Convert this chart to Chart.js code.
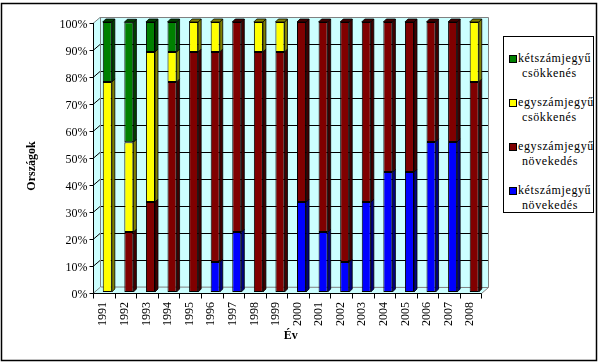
<!DOCTYPE html>
<html>
<head>
<meta charset="utf-8">
<script src="https://cdn.jsdelivr.net/npm/chart.js@4/dist/chart.umd.min.js"></script>
<style>
  body { margin: 0; background: #fff; }
  #wrap { position: relative; width: 600px; height: 364px; }
  #legend {
    position: absolute; left: 503px; top: 36px; width: 89px; height: 175px;
    border: 1px solid #000; background: #fff; overflow: hidden;
    font-family: "Liberation Serif", "Times New Roman", serif; font-size: 12px; color: #000;
  }
  .item { position: absolute; left: 5px; letter-spacing: 0.6px; line-height: 15px; white-space: nowrap; }
  .box { position: absolute; left: 0; top: 4px; width: 6px; height: 6px; border: 1px solid #000; }
  .txt { margin-left: 9px; }
  .l2 { padding-left: 4px; }
</style>
</head>
<body>
<div id="wrap">
  <canvas id="myChart" width="600" height="364"></canvas>
  <div id="legend"></div>
</div>
<script>
// years on the x axis
const years = ["1991", "1992", "1993", "1994", "1995", "1996", "1997", "1998", "1999",
  "2000", "2001", "2002", "2003", "2004", "2005", "2006", "2007", "2008"];

// share of countries (%) in each group
const ketszamjegyuNovekedes = [0, 0, 0, 0, 0, 11.1, 22.2, 0, 0, 33.3, 22.2, 11.1, 33.3, 44.4, 44.4, 55.6, 55.6, 0];
const egyszamjegyuNovekedes = [0, 22.2, 33.3, 77.8, 88.9, 77.8, 77.8, 88.9, 88.9, 66.7, 77.8, 88.9, 66.7, 55.6, 55.6, 44.4, 44.4, 77.8];
const egyszamjegyuCsokkenes = [77.8, 33.3, 55.6, 11.1, 11.1, 11.1, 0, 11.1, 11.1, 0, 0, 0, 0, 0, 0, 0, 0, 22.2];
const ketszamjegyuCsokkenes = [22.2, 44.4, 11.1, 11.1, 0, 0, 0, 0, 0, 0, 0, 0, 0, 0, 0, 0, 0, 0];

const yTicks = [0, 10, 20, 30, 40, 50, 60, 70, 80, 90, 100];

const serif = "'Liberation Serif', 'Times New Roman', serif";

// side colours for the fake 3d look
const sideColors = ["#000080", "#400000", "#808000", "#004000"];

// back wall, floor and axes drawn around the bars
const boxPlugin = {
  id: "box3d",
  beforeDatasetsDraw(chart) {
    const { ctx, chartArea: ca, scales } = chart;
    const y = scales.y;
    const x = scales.x;
    const front = (v) => y.getPixelForValue(v) + 1;
    const back = (v) => y.getPixelForValue(v) - 5;
    const fx0 = ca.left - 3.5, fx1 = ca.right - 3.5;
    const bx0 = ca.left + 3.5, bx1 = ca.right + 3.5;

    ctx.save();
    ctx.fillStyle = "#ccffff";
    ctx.beginPath();
    ctx.moveTo(fx0, front(0));
    ctx.lineTo(fx0, front(100));
    ctx.lineTo(bx0, back(100));
    ctx.lineTo(bx1, back(100));
    ctx.lineTo(bx1, back(0));
    ctx.lineTo(fx1, front(0));
    ctx.closePath();
    ctx.fill();

    // grid lines on wall
    ctx.lineWidth = 1;
    ctx.strokeStyle = "#000";
    yTicks.forEach((v) => {
      if (v === 0 || v === 100) return;
      const yb = Math.round(back(v)) + 0.5;
      ctx.beginPath();
      ctx.moveTo(fx0, Math.round(front(v)) + 0.5);
      ctx.lineTo(bx0, yb);
      ctx.lineTo(bx1, yb);
      ctx.stroke();
    });

    // grey edges
    ctx.strokeStyle = "#808080";
    ctx.beginPath();
    ctx.moveTo(fx0, Math.round(front(100)) + 0.5);
    ctx.lineTo(bx0, Math.round(back(100)) + 0.5);
    ctx.lineTo(bx1, Math.round(back(100)) + 0.5);
    ctx.lineTo(bx1, Math.round(back(0)) + 0.5);
    ctx.lineTo(fx1, Math.round(front(0)) + 0.5);
    ctx.moveTo(Math.round(bx0) + 0.5, back(100));
    ctx.lineTo(Math.round(bx0) + 0.5, back(0));
    ctx.lineTo(bx1, Math.round(back(0)) + 0.5);
    ctx.moveTo(fx0, Math.round(front(0)) + 0.5);
    ctx.lineTo(bx0, Math.round(back(0)) + 0.5);
    ctx.stroke();

    // axes and ticks
    ctx.strokeStyle = "#000";
    const ax = Math.round(fx0) + 0.5;
    const ay = Math.round(front(0)) + 0.5;
    ctx.beginPath();
    ctx.moveTo(ax, front(100));
    ctx.lineTo(ax, ay);
    ctx.lineTo(fx1, ay);
    yTicks.forEach((v) => {
      const ty = Math.round(front(v)) + 0.5;
      ctx.moveTo(ax - 4, ty);
      ctx.lineTo(ax, ty);
    });
    const step = x.getPixelForValue(1) - x.getPixelForValue(0);
    for (let i = 0; i <= years.length; i++) {
      const tx = Math.round(x.getPixelForValue(i) - step / 2 - 3.5) + 0.5;
      ctx.moveTo(tx, ay);
      ctx.lineTo(tx, ay + 5);
    }
    ctx.stroke();
    ctx.restore();
  },
  afterDatasetsDraw(chart) {
    const { ctx } = chart;
    const d = 3;
    const tops = {};
    chart.data.datasets.forEach((ds, i) => {
      ds.data.forEach((v, j) => { if (v > 0) tops[j] = i; });
    });
    ctx.save();
    ctx.lineWidth = 0.8;
    ctx.strokeStyle = "#000";
    chart.data.datasets.forEach((ds, i) => {
      const meta = chart.getDatasetMeta(i);
      meta.data.forEach((el, j) => {
        if (!(ds.data[j] > 0)) return;
        const { x, y, base, width } = el.getProps(["x", "y", "base", "width"], true);
        const l = x - width / 2, r = x + width / 2;
        ctx.fillStyle = sideColors[i];
        ctx.beginPath();
        ctx.moveTo(r, y);
        ctx.lineTo(r + d, y - d);
        ctx.lineTo(r + d, base - d);
        ctx.lineTo(r, base);
        ctx.closePath();
        ctx.fill();
        ctx.stroke();
        if (tops[j] === i) {
          ctx.beginPath();
          ctx.moveTo(l, y);
          ctx.lineTo(l + d, y - d);
          ctx.lineTo(r + d, y - d);
          ctx.lineTo(r, y);
          ctx.closePath();
          ctx.fill();
          ctx.stroke();
        }
      });
    });
    ctx.restore();
  },
  afterDraw(chart) {
    const { ctx } = chart;
    ctx.save();
    ctx.strokeStyle = "#000";
    ctx.lineWidth = 1.5;
    ctx.strokeRect(1.5, 3.5, 595, 357);
    // y axis title
    ctx.translate(32, 166);
    ctx.rotate(-Math.PI / 2);
    ctx.font = "bold 12px " + serif;
    ctx.fillStyle = "#000";
    ctx.textAlign = "center";
    ctx.textBaseline = "middle";
    ctx.fillText("Országok", 0, 0);
    ctx.restore();
  },
};

const data = {
  labels: years,
  datasets: [
    { label: "kétszámjegyű növekedés", data: ketszamjegyuNovekedes, backgroundColor: "#0000ff" },
    { label: "egyszámjegyű növekedés", data: egyszamjegyuNovekedes, backgroundColor: "#800000" },
    { label: "egyszámjegyű csökkenés", data: egyszamjegyuCsokkenes, backgroundColor: "#ffff00" },
    { label: "kétszámjegyű csökkenés", data: ketszamjegyuCsokkenes, backgroundColor: "#008000" },
  ],
};

data.datasets.forEach((ds) => {
  ds.borderColor = "#000";
  ds.borderWidth = 1;
  ds.borderSkipped = false;
  ds.barPercentage = 0.42;
  ds.categoryPercentage = 1;
});

const config = {
  type: "bar",
  data: data,
  plugins: [boxPlugin],
  options: {
    responsive: false,
    animation: false,
    layout: { padding: { left: 0, top: 22, right: 115, bottom: 0 } },
    plugins: {
      legend: { display: false },
      tooltip: { enabled: false },
    },
    scales: {
      x: {
        stacked: true,
        afterFit: (s) => { s.height = 72; },
        grid: { display: false, drawTicks: false },
        border: { display: false },
        ticks: {
          color: "#000",
          font: { family: serif, size: 12 },
          minRotation: 90,
          maxRotation: 90,
          padding: 10,
          labelOffset: -4,
        },
        title: {
          display: true,
          text: "Év",
          color: "#000",
          font: { family: serif, size: 12, weight: "bold" },
          padding: { top: 0, bottom: 21 },
        },
      },
      y: {
        stacked: true,
        min: 0,
        max: 100,
        afterFit: (s) => { s.width = 96.5; },
        grid: { display: false, drawTicks: false },
        border: { display: false },
        ticks: {
          stepSize: 10,
          color: "#000",
          font: { family: serif, size: 12 },
          padding: 9,
          labelOffset: 3,
          callback: (v) => v + "%",
        },
      },
    },
  },
};

const ctx = document.getElementById("myChart");
const myChart = new Chart(ctx, config);

// legend with two-line labels, top entry is the top of the stack
const legend = document.getElementById("legend");
const tops = [15, 59, 103, 147];
data.datasets.slice().reverse().forEach((ds, k) => {
  const words = ds.label.split(" ");
  const item = document.createElement("div");
  item.className = "item";
  item.style.top = tops[k] - 1 + "px";
  item.innerHTML = '<span class="box" style="background:' + ds.backgroundColor + '"></span>' +
    '<div class="txt">' + words[0] + '<div class="l2">' + words[1] + "</div></div>";
  legend.appendChild(item);
});
</script>
</body>
</html>
